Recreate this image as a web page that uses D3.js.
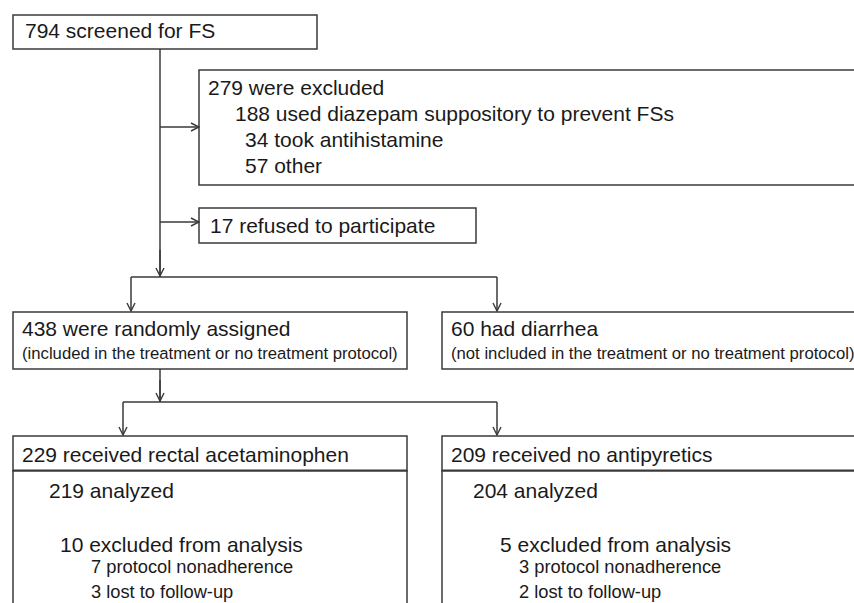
<!DOCTYPE html>
<html>
<head>
<meta charset="utf-8">
<script src="https://cdn.jsdelivr.net/npm/d3@7"></script>
<style>
  body { margin: 0; background: #fff; }
  svg text { font-family: "Liberation Sans", Arial, sans-serif; fill: #1a1a1a; }
</style>
</head>
<body>
<div class="flow-container"></div>
<script>
//Data: texts of each box
const screenedText = ['794 screened for FS'];
const excludedText = ['279 were excluded', '188 used diazepam suppository to prevent FSs', '34 took antihistamine', '57 other'];
const refusedText = ['17 refused to participate'];
const assignedText = ['438 were randomly assigned', '(included in the treatment or no treatment protocol)'];
const diarrheaText = ['60 had diarrhea', '(not included in the treatment or no treatment protocol)'];
const groupTitles = ['229 received rectal acetaminophen', '209 received no antipyretics'];
const analyzedText = ['219 analyzed', '204 analyzed'];
const excludedAnalysisText = ['10 excluded from analysis', '5 excluded from analysis'];
const nonadherenceText = ['7 protocol nonadherence', '3 protocol nonadherence'];
const lostText = ['3 lost to follow-up', '2 lost to follow-up'];

const svg_width = 854;
const svg_height = 603;
const stroke = '#3a3a3a';

const svg = d3.select('.flow-container').append('svg')
    .attr('width', svg_width).attr('height', svg_height);

//arrow head (open V)
svg.append('defs').append('marker')
    .attr('id', 'arrow')
    .attr('markerUnits', 'userSpaceOnUse')
    .attr('viewBox', '0 0 10 10')
    .attr('refX', 9).attr('refY', 5)
    .attr('markerWidth', 10).attr('markerHeight', 10)
    .attr('orient', 'auto')
    .append('path')
    .attr('d', 'M1,1 L9,5 L1,9')
    .attr('fill', 'none').attr('stroke', stroke).attr('stroke-width', 1.4);

//box layout
const boxes = [
    { x: 13, y: 15, w: 304, h: 34, lines: [[screenedText[0], 12, 23, 21]] },
    { x: 199, y: 70, w: 670, h: 115, lines: excludedText.map((t, i) => [t, [9, 36, 46, 46][i], 25 + i * 26, 21]) },
    { x: 199, y: 208, w: 277, h: 35, lines: [[refusedText[0], 11, 25, 21]] },
    { x: 13, y: 312, w: 394, h: 57, lines: [[assignedText[0], 9, 24, 21], [assignedText[1], 9, 47, 16.7]] },
    { x: 442, y: 312, w: 430, h: 57, lines: [[diarrheaText[0], 9, 24, 21], [diarrheaText[1], 9, 47, 16.7]] },
];
const cols = [{ x: 13, w: 394, dx: [36, 47, 78] }, { x: 442, w: 430, dx: [31, 58, 77] }];
cols.forEach((c, i) => {
    boxes.push({ x: c.x, y: 436, w: c.w, h: 35, thick: true, lines: [[groupTitles[i], 9, 26, 21]] });
    boxes.push({ x: c.x, y: 471, w: c.w, h: 160, lines: [
        [analyzedText[i], c.dx[0], 27, 21],
        [excludedAnalysisText[i], c.dx[1], 81, 21],
        [nonadherenceText[i], c.dx[2], 102, 18.3],
        [lostText[i], c.dx[2], 127, 18.3]
    ] });
});

const g = svg.selectAll('.box').data(boxes).enter()
    .append('g').attr('class', 'box')
    .attr('transform', d => `translate(${d.x},${d.y})`);
g.append('rect')
    .attr('width', d => d.w).attr('height', d => d.h)
    .attr('fill', '#fff').attr('stroke', stroke).attr('stroke-width', 1.5);
g.filter(d => d.thick).append('line')
    .attr('x1', 0).attr('x2', d => d.w).attr('y1', d => d.h).attr('y2', d => d.h)
    .attr('stroke', stroke).attr('stroke-width', 3);
g.selectAll('text').data(d => d.lines).enter()
    .append('text')
    .attr('x', d => d[1]).attr('y', d => d[2])
    .style('font-size', d => d[3] + 'px')
    .text(d => d[0]);

//connectors
const line = d3.line();
const plain = [
    [[160, 49], [160, 277]],
    [[131, 277], [497, 277]],
    [[160, 369], [160, 402]],
    [[123, 402], [497, 402]]
];
const arrows = [
    [[160, 127], [199, 127]],
    [[160, 222], [199, 222]],
    [[160, 250], [160, 276]],
    [[131, 277], [131, 311]],
    [[497, 277], [497, 311]],
    [[160, 380], [160, 401]],
    [[123, 402], [123, 435]],
    [[497, 402], [497, 435]]
];
svg.selectAll('.link').data(plain).enter().append('path')
    .attr('class', 'link').attr('d', line)
    .attr('fill', 'none').attr('stroke', stroke).attr('stroke-width', 1.5);
svg.selectAll('.arrow').data(arrows).enter().append('path')
    .attr('class', 'arrow').attr('d', line)
    .attr('fill', 'none').attr('stroke', stroke).attr('stroke-width', 1.5)
    .attr('marker-end', 'url(#arrow)');
</script>
</body>
</html>
